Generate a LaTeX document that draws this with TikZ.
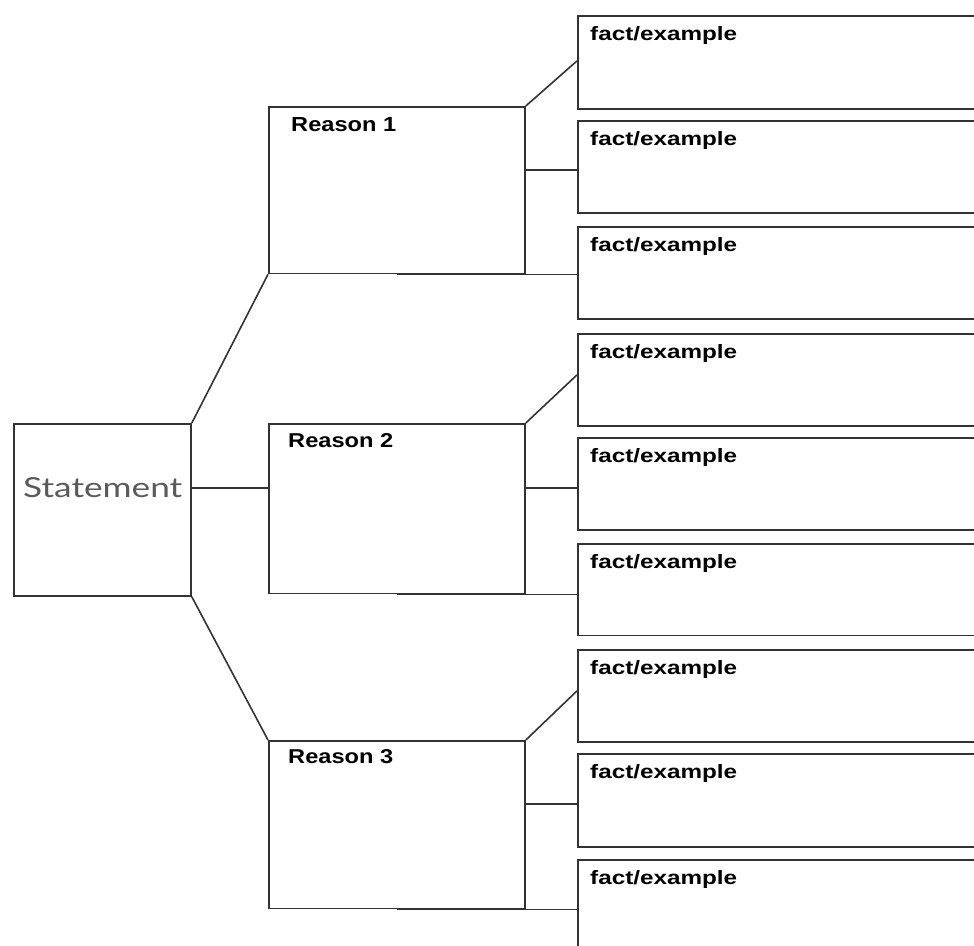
\documentclass[tikz,border=0pt]{standalone}
\usepackage{fontspec}
\setmainfont{Liberation Sans}
\newfontfamily\statfont{Lato}
\usepackage{graphicx}
\usetikzlibrary{calc}
\definecolor{ln}{HTML}{333333}
\definecolor{stgray}{HTML}{5A5A5A}
\newcommand{\facttxt}{\resizebox{147pt}{14pt}{\bfseries fact/example}}
\newcommand{\reasontxt}[1]{\resizebox{105pt}{14pt}{\bfseries Reason #1}}
\begin{document}
\begin{tikzpicture}[x=1pt,y=-1pt,
  box/.style={draw=ln,line width=1.8pt,rectangle,inner sep=0pt,anchor=north west},
  conn/.style={draw=ln,line width=1.6pt},
  lbl/.style={inner sep=0pt,anchor=base west,text=black}]
\useasboundingbox (0,0) rectangle (974,945);
\clip (0,0) rectangle (974,945);

% statement
\node[box,minimum width=177pt,minimum height=172pt] (st) at (13,423) {};
\node[lbl,text=stgray] (stt) at (23,497) {\resizebox{159pt}{20pt}{\statfont Statement}};

% reasons
\node[box,minimum width=256pt,minimum height=166.5pt] (r1) at (268,106) {};
\node[box,minimum width=256pt,minimum height=169.5pt] (r2) at (268,423) {};
\node[box,minimum width=256pt,minimum height=167.5pt] (r3) at (268,740) {};
\node[lbl] (r1t) at (291,131) {\reasontxt{1}};
\node[lbl] (r2t) at (288,447) {\reasontxt{2}};
\node[lbl] (r3t) at (288,763) {\reasontxt{3}};

% facts
\foreach \n/\t/\h in {1/15/93,2/120/92,3/226/92,4/333/92,5/437/92,6/543/91.5,7/649/92,8/753/93,9/859/93}{
  \node[box,minimum width=410pt,minimum height=\h pt] (f\n) at (577,\t) {};
  \node[lbl] (f\n t) at ($(f\n.north west)+(13,25.5)$) {\facttxt};
}

% statement connectors
\draw[conn] (st.north east) -- (r1.south west);
\draw[conn] (st.south east) -- (r3.north west);
\coordinate (sl) at ([yshift=22pt]st.east);
\draw[conn] (sl) -- (sl -| r2.west);

% reason 1 connectors
\draw[conn] (r1.north east) -- ([yshift=1.5pt]f1.west);
\coordinate (m1) at ([yshift=-3.3pt]f2.west);
\draw[conn] (m1 -| r1.east) -- (m1);
\draw[conn] (r1.south) -- (r1.south -| f3.west);

% reason 2 connectors
\draw[conn] (r2.north east) -- ([yshift=5pt]f4.west);
\coordinate (m2) at ([yshift=-4pt]f5.west);
\draw[conn] (m2 -| r2.east) -- (m2);
\draw[conn] (r2.south) -- (r2.south -| f6.west);

% reason 3 connectors
\draw[conn] (r3.north east) -- ([yshift=5pt]f7.west);
\coordinate (m3) at ([yshift=-3.5pt]f8.west);
\draw[conn] (m3 -| r3.east) -- (m3);
\draw[conn] (r3.south) -- (r3.south -| f9.west);
\end{tikzpicture}
\end{document}
